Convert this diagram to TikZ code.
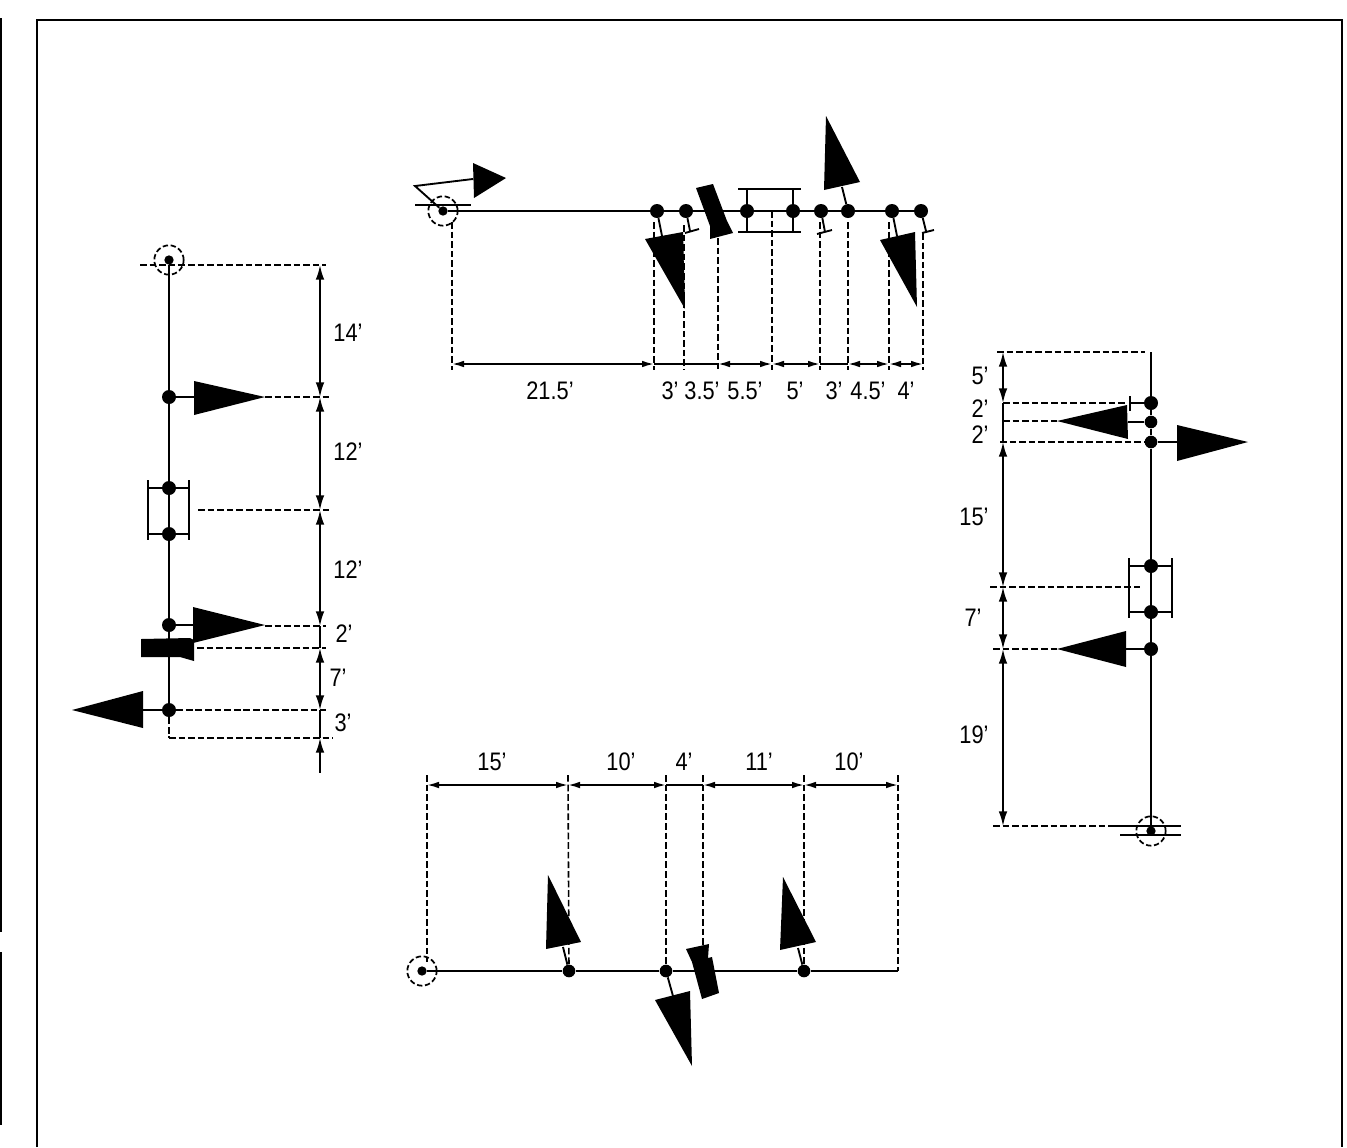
\documentclass[tikz,border=0pt]{standalone}
\usepackage{fontspec}
\setmainfont{Liberation Sans}[FakeStretch=0.86]
\usetikzlibrary{arrows.meta, positioning, calc}

\begin{document}
\begin{tikzpicture}[
    x=0.75pt, y=-0.75pt,
    mastdot/.style={circle, fill=black, inner sep=0pt, minimum size=10.5pt},
    smalldot/.style={circle, fill=black, inner sep=0pt, minimum size=9.5pt},
    pindot/.style={circle, fill=black, inner sep=0pt, minimum size=7pt},
    ring/.style={circle, draw, dash pattern=on 4pt off 2pt, line width=1.3pt, inner sep=0pt, minimum size=22pt},
    mast/.style={line width=1.8pt},
    stem/.style={line width=1.4pt},
    sail/.style={fill=black},
    extline/.style={line width=1.2pt, dash pattern=on 5pt off 2.2pt},
    dimline/.style={line width=1.4pt, {Latex[length=11pt,width=6.5pt]}-{Latex[length=11pt,width=6.5pt]}},
    dimlinesm/.style={line width=1.3pt, {Latex[length=9pt,width=5pt]}-{Latex[length=9pt,width=5pt]}},
    tickline/.style={line width=1.3pt},
    dimlabel/.style={font=\fontsize{19}{19}\selectfont, inner sep=0pt}
]
    \useasboundingbox (0,0) rectangle (1347,1147);
    \draw[line width=1.6pt] (37,1147) -- (37,20) -- (1342,20) -- (1342,1147);
    \draw[line width=2pt] (1,18) -- (1,932) (1,952) -- (1,1125);

    \node[ring] (lRing) at (169,260) {};
    \node[pindot] (lTop) at (169,260) {};
    \node[mastdot] (lS1) at (169,397) {};
    \node[mastdot] (lR1) at (169,488) {};
    \node[mastdot] (lR2) at (169,534) {};
    \node[mastdot] (lS2) at (169,625) {};
    \node[mastdot] (lS3) at (169,710) {};
    \coordinate (lEnd) at (169,738);
    \draw[mast] (lTop) -- (lS1) -- (lR1) -- (lR2) -- (lS2) -- (lS3);
    \draw[extline] (lS3) -- (lEnd);
    \fill[sail] (194,381) -- (194,415) -- (265,397) -- cycle;
    \fill[sail] (193,607) -- (193,643) -- (265,625) -- cycle;
    \fill[sail] (143,691) -- (143,728) -- (72,710) -- cycle;
    \fill[sail] (141,639) -- (190,638) -- (194,640) -- (194,661) -- (180,657) -- (141,657) -- cycle;
    \coordinate (lS1b) at (194,397);
    \coordinate (lS2b) at (193,625);
    \coordinate (lS3b) at (143,710);
    \draw[stem] (lS1) -- (lS1b);
    \draw[stem] (lS2) -- (lS2b);
    \draw[stem] (lS3) -- (lS3b);
    \draw[tickline] (148,488) -- (lR1) -- (189,488);
    \draw[tickline] (148,534) -- (lR2) -- (189,534);
    \draw[tickline] (148,480) -- (148,540);
    \draw[tickline] (189,480) -- (189,540);

    \coordinate (lD0) at (320,265);
    \coordinate (lD1) at (320,397);
    \coordinate (lD2) at (320,510);
    \coordinate (lD3) at (320,626);
    \coordinate (lD4) at (320,648);
    \coordinate (lD5) at (320,710);
    \coordinate (lD6) at (320,738);
    \coordinate (lD7) at (320,773);
    \draw[dimline] (lD0) -- (lD1);
    \draw[dimline] (lD1) -- (lD2);
    \draw[dimline] (lD2) -- (lD3);
    \draw[tickline] (lD3) -- (lD4);
    \draw[dimline] (lD4) -- (lD5);
    \draw[tickline] (lD5) -- (lD6);
    \draw[dimline, {Latex[length=11pt,width=6.5pt]}-] (lD6) -- (lD7);
    \draw[extline] (140,265) -- (326,265);
    \draw[extline] (265,397) -- (330,397);
    \draw[extline] (198,510) -- (330,510);
    \draw[extline] (265,626) -- (326,626);
    \draw[extline] (197,648) -- (326,648);
    \draw[extline] (lS3) -- (326,710);
    \draw[extline] (lEnd) -- (333,738);
    \node[dimlabel] (lL1) at (348,333) {14'};
    \node[dimlabel] (lL2) at (348,452) {12'};
    \node[dimlabel] (lL3) at (348,570) {12'};
    \node[dimlabel] (lL4) at (344,634) {2'};
    \node[dimlabel] (lL5) at (338,678) {7'};
    \node[dimlabel] (lL6) at (343,723) {3'};

    \node[ring] (tRing) at (443,211) {};
    \node[pindot] (tTop) at (443,211) {};
    \node[mastdot] (tA) at (657,211) {};
    \node[mastdot] (tB) at (686,211) {};
    \node[mastdot] (tC) at (747,211) {};
    \node[mastdot] (tD) at (793,211) {};
    \node[mastdot] (tE) at (821,211) {};
    \node[mastdot] (tF) at (848,211) {};
    \node[mastdot] (tG) at (892,211) {};
    \node[mastdot] (tH) at (921,211) {};
    \draw[mast] (tTop) -- (tA) -- (tB) -- (tC) -- (tD) -- (tE) -- (tF) -- (tG) -- (tH);
    \draw[stem] (415,205) -- (471,205);
    \draw[stem] (tTop) -- (415,186) -- (473,179);
    \fill[sail] (473,163) -- (474,198) -- (506,178) -- cycle;
    \fill[sail] (645,239) -- (683,232) -- (685,309) -- cycle;
    \fill[sail] (826,116) -- (824,190) -- (860,182) -- cycle;
    \fill[sail] (880,240) -- (915,232) -- (917,307) -- cycle;
    \fill[sail] (696,188) -- (713,184) -- (727,221) -- (733,233) -- (710,239) -- (710,226) -- cycle;
    \coordinate (tAb) at (662,236);
    \coordinate (tFb) at (842,187);
    \coordinate (tGb) at (897,236);
    \draw[stem] (tA) -- (tAb);
    \draw[stem] (tF) -- (tFb);
    \draw[stem] (tG) -- (tGb);
    \draw[stem] (tB) -- (690,231);
    \draw[stem] (685,233) -- (699,229);
    \draw[stem] (tE) -- (825,232);
    \draw[stem] (817,234) -- (832,230);
    \draw[stem] (tH) -- (926,231);
    \draw[stem] (922,233) -- (934,230);
    \draw[tickline] (738,189) -- (801,189);
    \draw[tickline] (738,232) -- (801,232);
    \draw[tickline] (747,189) -- (tC) -- (747,232);
    \draw[tickline] (793,189) -- (tD) -- (793,232);

    \coordinate (tD0) at (452,364);
    \coordinate (tD1) at (654,364);
    \coordinate (tD2) at (684,364);
    \coordinate (tD3) at (718,364);
    \coordinate (tD4) at (772,364);
    \coordinate (tD5) at (820,364);
    \coordinate (tD6) at (848,364);
    \coordinate (tD7) at (889,364);
    \coordinate (tD8) at (923,364);
    \draw[dimlinesm] (tD0) -- (tD1);
    \draw[tickline] (tD1) -- (tD2);
    \draw[tickline] (tD2) -- (tD3);
    \draw[dimlinesm] (tD3) -- (tD4);
    \draw[dimlinesm] (tD4) -- (tD5);
    \draw[tickline] (tD5) -- (tD6);
    \draw[dimlinesm] (tD6) -- (tD7);
    \draw[dimlinesm] (tD7) -- (tD8);
    \draw[extline] (452,222) -- (452,370);
    \draw[extline] (654,222) -- (654,370);
    \draw[extline] (684,225) -- (684,370);
    \draw[extline] (718,238) -- (718,370);
    \draw[extline] (772,211) -- (772,370);
    \draw[extline] (820,222) -- (820,370);
    \draw[extline] (848,222) -- (848,370);
    \draw[extline] (889,222) -- (889,370);
    \draw[extline] (923,233) -- (923,370);
    \node[dimlabel] (tL1) at (550,391) {21.5'};
    \node[dimlabel] (tL2) at (670,391) {3'};
    \node[dimlabel] (tL3) at (702,391) {3.5'};
    \node[dimlabel] (tL4) at (745,391) {5.5'};
    \node[dimlabel] (tL5) at (795,391) {5'};
    \node[dimlabel] (tL6) at (834,391) {3'};
    \node[dimlabel] (tL7) at (868,391) {4.5'};
    \node[dimlabel] (tL8) at (906,391) {4'};

    \node[ring] (rRing) at (1151,831) {};
    \node[pindot] (rBot) at (1151,831) {};
    \node[mastdot] (rA) at (1151,403) {};
    \node[smalldot] (rB) at (1151,422) {};
    \node[smalldot] (rC) at (1151,442) {};
    \node[mastdot] (rD) at (1151,566) {};
    \node[mastdot] (rE) at (1151,612) {};
    \node[mastdot] (rF) at (1151,649) {};
    \coordinate (rTop) at (1151,352);
    \draw[mast] (rTop) -- (rA) -- (rB) -- (rC) -- (rD) -- (rE) -- (rF) -- (rBot);
    \fill[sail] (1127,405) -- (1128,439) -- (1057,421) -- cycle;
    \fill[sail] (1177,425) -- (1177,461) -- (1248,442) -- cycle;
    \fill[sail] (1126,631) -- (1126,667) -- (1057,649) -- cycle;
    \coordinate (rBb) at (1128,422);
    \coordinate (rCb) at (1177,442);
    \coordinate (rFb) at (1126,649);
    \draw[stem] (rB) -- (rBb);
    \draw[stem] (rC) -- (rCb);
    \draw[stem] (rF) -- (rFb);
    \draw[stem] (rA) -- (1130,403);
    \draw[stem] (1130,396) -- (1130,411);
    \draw[tickline] (1129,566) -- (rD) -- (1172,566);
    \draw[tickline] (1129,612) -- (rE) -- (1172,612);
    \draw[tickline] (1129,558) -- (1129,618);
    \draw[tickline] (1172,558) -- (1172,618);
    \draw[tickline] (1115,826) -- (1181,826);
    \draw[tickline] (1120,835) -- (1181,835);

    \coordinate (rD0) at (1003,352);
    \coordinate (rD1) at (1003,403);
    \coordinate (rD2) at (1003,422);
    \coordinate (rD3) at (1003,442);
    \coordinate (rD4) at (1003,587);
    \coordinate (rD5) at (1003,649);
    \coordinate (rD6) at (1003,826);
    \draw[dimline] (rD0) -- (rD1);
    \draw[tickline] (rD1) -- (rD2);
    \draw[tickline] (rD2) -- (rD3);
    \draw[dimline] (rD3) -- (rD4);
    \draw[dimline] (rD4) -- (rD5);
    \draw[dimline] (rD5) -- (rD6);
    \draw[extline] (997,352) -- (1145,352);
    \draw[extline] (1003,403) -- (1125,403);
    \draw[extline] (1003,421) -- (1057,421);
    \draw[extline] (1000,442) -- (1145,442);
    \draw[extline] (990,587) -- (1140,587);
    \draw[extline] (993,649) -- (1057,649);
    \draw[extline] (993,826) -- (1115,826);
    \node[dimlabel] (rL1) at (980,376) {5'};
    \node[dimlabel] (rL2) at (980,409) {2'};
    \node[dimlabel] (rL3) at (980,435) {2'};
    \node[dimlabel] (rL4) at (974,517) {15'};
    \node[dimlabel] (rL5) at (973,618) {7'};
    \node[dimlabel] (rL6) at (974,735) {19'};

    \node[ring] (bRing) at (422,971) {};
    \node[pindot] (bTop) at (422,971) {};
    \node[smalldot] (bA) at (569,971) {};
    \node[smalldot] (bB) at (666,971) {};
    \node[smalldot] (bC) at (804,971) {};
    \coordinate (bEnd) at (898,971);
    \draw[mast] (bTop) -- (bA) -- (bB) -- (bC) -- (bEnd);
    \fill[sail] (548,875) -- (546,949) -- (581,942) -- cycle;
    \fill[sail] (783,877) -- (780,950) -- (816,942) -- cycle;
    \fill[sail] (655,1000) -- (690,991) -- (692,1066) -- cycle;
    \fill[sail] (686,949) -- (709,944) -- (708,958) -- (712,957) -- (719,993) -- (702,999) -- (692,962) -- cycle;
    \coordinate (bAb) at (563,947);
    \coordinate (bBb) at (673,996);
    \coordinate (bCb) at (798,948);
    \draw[stem] (bA) -- (bAb);
    \draw[stem] (bB) -- (bBb);
    \draw[stem] (bC) -- (bCb);

    \coordinate (bD0) at (427,785);
    \coordinate (bD1) at (568,785);
    \coordinate (bD2) at (666,785);
    \coordinate (bD3) at (703,785);
    \coordinate (bD4) at (804,785);
    \coordinate (bD5) at (898,785);
    \draw[dimlinesm] (bD0) -- (bD1);
    \draw[dimlinesm] (bD1) -- (bD2);
    \draw[tickline] (bD2) -- (bD3);
    \draw[dimlinesm] (bD3) -- (bD4);
    \draw[dimlinesm] (bD4) -- (bD5);
    \draw[extline] (427,775) -- (427,962);
    \draw[extline] (568,775) -- (bA);
    \draw[extline] (666,775) -- (bB);
    \draw[extline] (703,775) -- (703,945);
    \draw[extline] (804,775) -- (bC);
    \draw[extline] (898,775) -- (bEnd);
    \node[dimlabel] (bL1) at (492,762) {15'};
    \node[dimlabel] (bL2) at (621,762) {10'};
    \node[dimlabel] (bL3) at (684,762) {4'};
    \node[dimlabel] (bL4) at (759,762) {11'};
    \node[dimlabel] (bL5) at (849,762) {10'};
\end{tikzpicture}
\end{document}
